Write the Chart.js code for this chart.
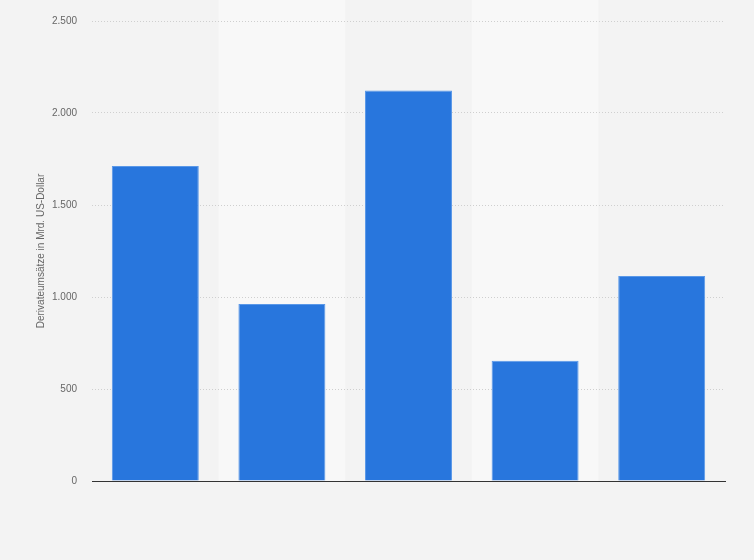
<!DOCTYPE html>
<html>
<head>
<meta charset="utf-8">
<script src="https://cdn.jsdelivr.net/npm/chart.js@4"></script>
<style>
  html, body { margin: 0; padding: 0; background: #f3f3f3; }
  #wrap { width: 754px; height: 560px; }
</style>
</head>
<body>
<div id="wrap"><canvas id="chart" width="754" height="560"></canvas></div>
<script>
// Data (no category labels are shown)
const categories = ['1', '2', '3', '4', '5'];
const values = [1712, 962, 2122, 653, 1114];
const yTicks = [0, 500, 1000, 1500, 2000, 2500];
const yTitle = 'Derivateumsätze in Mrd. US-Dollar';

// lighter bands behind every second category
const bandPlugin = {
  id: 'bands',
  beforeDraw(chart) {
    const ctx = chart.ctx;
    const area = chart.chartArea;
    const x = chart.scales.x;
    const w = (area.right - area.left) / categories.length;
    ctx.save();
    ctx.fillStyle = '#f8f8f8';
    categories.forEach((c, i) => {
      if (i % 2 === 1) {
        const cx = x.getPixelForValue(i);
        ctx.fillRect(cx - w / 2, 0, w, area.bottom);
      }
    });
    ctx.restore();
  }
};

Chart.defaults.font.family = '"Liberation Sans", Arial, sans-serif';
Chart.defaults.color = '#666';

new Chart(document.getElementById('chart'), {
  type: 'bar',
  data: {
    labels: categories,
    datasets: [{
      data: values,
      backgroundColor: '#2876dd',
      borderColor: '#5a98e8',
      borderWidth: 1,
      barPercentage: 0.687,
      categoryPercentage: 1
    }]
  },
  options: {
    responsive: false,
    animation: false,
    layout: { padding: { left: 30, right: 29, top: 18, bottom: 79 } },
    plugins: { legend: { display: false }, tooltip: { enabled: false } },
    scales: {
      x: {
        grid: { display: false, drawTicks: false },
        border: { display: true, color: '#333', width: 1 },
        ticks: { display: false }
      },
      y: {
        min: 0,
        max: 2500,
        afterBuildTicks(scale) {
          scale.ticks = yTicks.map(v => ({ value: v }));
        },
        afterFit(scale) { scale.width = 62; },
        grid: { color: '#cfcfcf', drawTicks: false },
        border: { display: false, dash: [1, 2] },
        ticks: {
          padding: 15,
          font: { size: 10 },
          color: '#666',
          callback: v => v.toLocaleString('de-DE')
        },
        title: {
          display: true,
          text: yTitle,
          font: { size: 10 },
          color: '#666',
          padding: { top: 5, bottom: 0 }
        }
      }
    }
  },
  plugins: [bandPlugin]
});
</script>
</body>
</html>
